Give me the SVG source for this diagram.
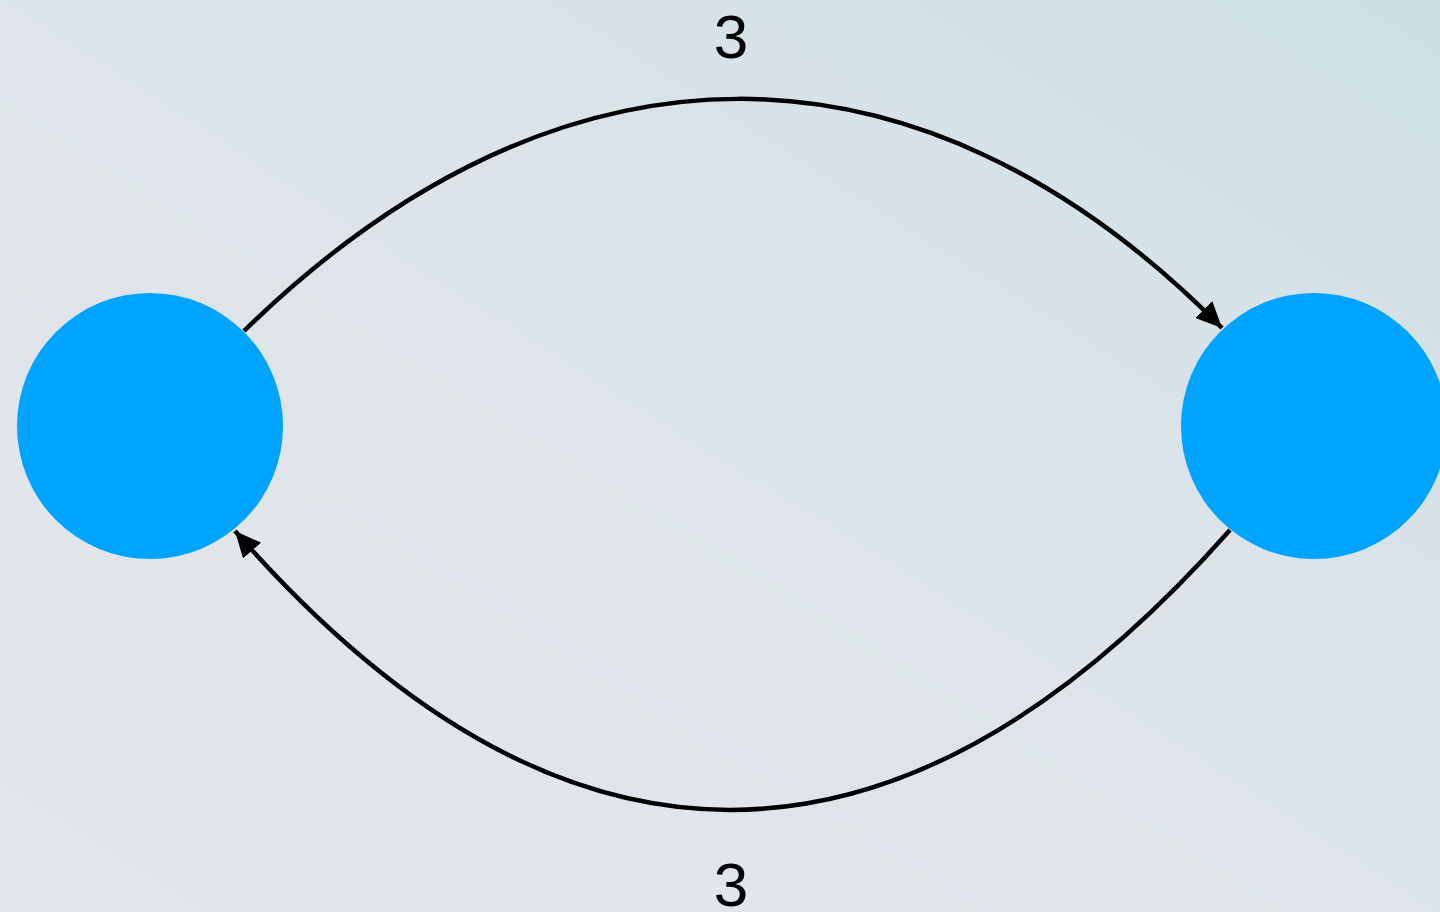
<svg xmlns="http://www.w3.org/2000/svg" width="1440" height="912" viewBox="0 0 1440 912">
  <defs>
    <linearGradient id="bg" x1="0" y1="1" x2="1" y2="0">
      <stop offset="0" stop-color="#e1e6ea"/>
      <stop offset="0.55" stop-color="#dde4e9"/>
      <stop offset="1" stop-color="#cde0e6"/>
    </linearGradient>
    <marker id="arrow" viewBox="0 0 26 24" refX="26" refY="12" markerWidth="26" markerHeight="24" markerUnits="userSpaceOnUse" orient="auto">
      <path d="M0,0 L26,12 L0,24 Z" fill="#000"/>
    </marker>
    <style>
      .node { fill: #00a3fe; }
      .edge { fill: none; stroke: #000; stroke-width: 4.5; marker-end: url(#arrow); }
      .label { font-family: "Liberation Sans", Arial, sans-serif; font-size: 62px; fill: #000; text-anchor: middle; }
    </style>
  </defs>
  <rect width="1440" height="912" fill="url(#bg)"/>
  <g id="connectors">
    <path class="edge" d="M244,331 C560,22 920,22 1222,328"/>
    <path class="edge" d="M1230,530 C900,903 560,903 235,531"/>
    <text class="label" x="731" y="58">3</text>
    <text class="label" x="731" y="906">3</text>
  </g>
  <g id="node-left">
    <circle class="node" cx="150" cy="426" r="133"/>
  </g>
  <g id="node-right">
    <circle class="node" cx="1314" cy="426" r="133"/>
  </g>
</svg>
